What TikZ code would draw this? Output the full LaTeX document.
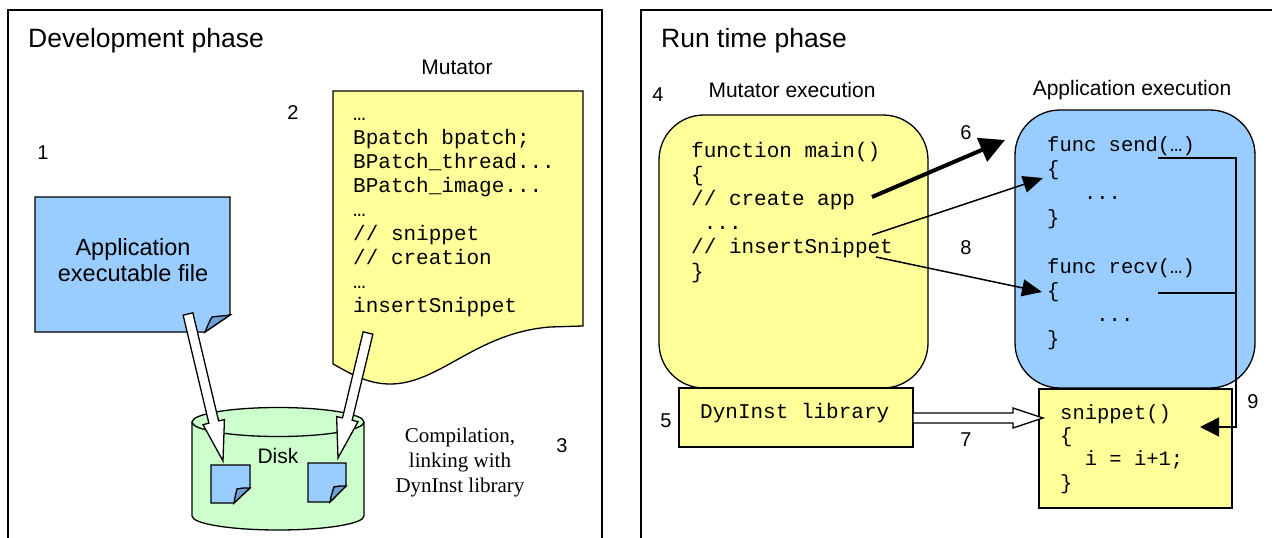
\documentclass[tikz,border=0pt]{standalone}
\usepackage{fontspec}
\setmainfont{Liberation Sans}
\setmonofont{Liberation Mono}
\newfontfamily\timesfont{Liberation Serif}
\usetikzlibrary{calc,arrows.meta}

\definecolor{docyellow}{HTML}{FFFF99}
\definecolor{docblue}{HTML}{99CCFF}
\definecolor{foldblue}{HTML}{6E9FD6}
\definecolor{diskgreen}{HTML}{CCFFCC}

% three typed dots in code lines
\newcommand\dotrun{...}

% Hollow block arrow from #1 to #2: shaft half width #3, head half width #4, head length #5
\newcommand\fatarrow[5]{%
  \coordinate (#1-#2-h) at ($(#2)!#5!(#1)$);
  \filldraw[hollow]
    ($(#1)!#3!90:(#2)$) -- ($(#1-#2-h)!#3!90:(#2)$) -- ($(#1-#2-h)!#4!90:(#2)$)
    -- (#2)
    -- ($(#1-#2-h)!#4!-90:(#2)$) -- ($(#1-#2-h)!#3!-90:(#2)$) -- ($(#1)!#3!-90:(#2)$) -- cycle;}

\begin{document}
\begin{tikzpicture}[x=1pt,y=-1pt,
  panel/.style={line width=2pt},
  outline/.style={draw, line width=1.3pt},
  hollow/.style={draw, fill=white, line width=1.3pt, line join=miter},
  title/.style={font=\fontsize{26.5}{30}\selectfont, anchor=base west, inner sep=0},
  caption/.style={font=\fontsize{21}{25}\selectfont, inner sep=0},
  num/.style={font=\fontsize{20}{23}\selectfont, inner sep=0},
  code/.style={font=\ttfamily\fontsize{21}{24}\selectfont, anchor=base west, inner sep=0},
  smallcode/.style={font=\ttfamily\fontsize{20.5}{24}\selectfont, anchor=base west, inner sep=0},
  link/.style={line width=1.5pt, -{Triangle[length=20pt,width=17pt]}},
  biglink/.style={line width=4pt, -{Triangle[length=25pt,width=25pt]}},
  railline/.style={line width=1.5pt},
  box/.style={outline, inner sep=0, anchor=center}]

\useasboundingbox (0,0) rectangle (1272,538);
\clip (0,0) rectangle (1272,538);

% ---------- panel frames ----------
\draw[panel] (8,545) -- (8,10) -- (602,10) -- (602,545);
\draw[panel] (641,545) -- (641,10) -- (1280,10);
\node[title] (devtitle) at (28,47) {Development phase};
\node[title] (runtitle) at (661,47) {Run time phase};

% ---------- development phase ----------
\node[num] (n1) at (43,153) {1};
\node[num] (n2) at (293,113) {2};
\node[num] (n3) at (562,446) {3};
\node[caption] (mutcap) at (457,67) {Mutator};

% application executable (page with curled corner)
\filldraw[outline, fill=docblue] (35,197) -- (230,197) -- (230,315) -- (205,332) -- (35,332) -- cycle;
\filldraw[outline, fill=foldblue] (205,332) .. controls (208,325) and (210,320) .. (212,317)
  .. controls (218,316) and (225,316) .. (230,315) -- cycle;
\node[font=\fontsize{23.5}{26}\selectfont, align=center, inner sep=0] (appfile) at (133,260) {Application\\executable file};

% mutator source (page with wavy bottom)
\filldraw[outline, fill=docyellow] (333,91) -- (583,91) -- (583,326) -- (550,327)
  .. controls (475,333) and (440,384) .. (390,384)
  .. controls (366,384) and (348,372) .. (333,364) -- cycle;
\foreach \t [count=\i] in {{…}, {Bpatch bpatch;}, {BPatch\_thread\dotrun}, {BPatch\_image\dotrun}, {…},
    {// snippet}, {// creation}, {…}, {insertSnippet}}
  \node[code] (src\i) at (353,{120+24.1*(\i-1)}) {\t};

% disk
\fill[diskgreen] (192,422) rectangle (364,516);
\fill[diskgreen] (278,516) ellipse [x radius=86, y radius=14];
\draw[outline] (192,422) -- (192,516) arc[start angle=180, end angle=0, x radius=86, y radius=14] -- (364,422);
\draw[outline, fill=diskgreen] (278,422) ellipse [x radius=86, y radius=14.5];
\node[caption] (disk) at (278,456) {Disk};

% object files on the disk
\filldraw[outline, fill=docblue] (211,465) -- (250,465) -- (250,488) -- (234,503) -- (211,503) -- cycle;
\filldraw[outline, fill=foldblue] (234,503) .. controls (235,497) .. (237,489) .. controls (242,488) .. (250,488) -- cycle;
\filldraw[outline, fill=docblue] (308,463) -- (346,463) -- (346,486) -- (330,502) -- (308,502) -- cycle;
\filldraw[outline, fill=foldblue] (330,502) .. controls (331,496) .. (334,487) .. controls (339,486) .. (346,486) -- cycle;

\node[font=\timesfont\fontsize{21}{25}\selectfont, align=center, inner sep=0] (compile) at (460,462)
  {Compilation,\\linking with\\DynInst library};

% compilation arrows
\coordinate (appout) at (188,314);
\coordinate (diskin1) at (223,461);
\coordinate (mutout) at (368,333);
\coordinate (diskin2) at (338,458);
\fatarrow{appout}{diskin1}{5pt}{11pt}{40pt}
\fatarrow{mutout}{diskin2}{5pt}{11pt}{40pt}

% ---------- run time phase ----------
\node[num] (n4) at (658,95) {4};
\node[caption] (mutexec) at (792,90) {Mutator execution};
\node[caption] (appexec) at (1132,90) {Application execution};

\node[box, fill=docyellow, rounded corners=45pt, minimum width=269pt, minimum height=273pt] (mutbox) at (793.5,251.5) {};
\node[box, fill=docblue, rounded corners=45pt, minimum width=240pt, minimum height=278pt] (appbox) at (1135,249) {};
\node[box, fill=docyellow, minimum width=234pt, minimum height=59pt] (dynbox) at (796,417.5) {};
\node[box, fill=docyellow, minimum width=193pt, minimum height=119pt] (snipbox) at (1135.5,448.5) {};

\foreach \t [count=\i] in {{function main()}, {\{}, {// create app}, {\phantom{x}\dotrun}, {// insertSnippet}, {\}}}
  \node[code] (main\i) at (691,{157+24.2*(\i-1)}) {\t};
\foreach \t [count=\i] in {{func send(…)}, {\{}, {\phantom{xxx}\dotrun}, {\}}}
  \node[smallcode] (send\i) at (1047,{151+24.4*(\i-1)}) {\t};
\foreach \t [count=\i] in {{func recv(…)}, {\{}, {\phantom{xxxx}\dotrun}, {\}}}
  \node[smallcode] (recv\i) at (1047,{273+24.2*(\i-1)}) {\t};
\foreach \t [count=\i] in {{snippet()}, {\{}, {\phantom{xx}i = i+1;}, {\}}}
  \node[smallcode] (snip\i) at (1060,{419+23.4*(\i-1)}) {\t};
\node[code] (dyntext) at (700,418) {DynInst library};

\node[num] (n5) at (666,421) {5};
\node[num] (n6) at (966,133) {6};
\node[num] (n7) at (966,440) {7};
\node[num] (n8) at (966,248) {8};
\node[num] (n9) at (1253,402) {9};

% mutator -> application
\coordinate (createout) at (872,197);
\coordinate (createin) at (1005,140);
\coordinate (insout1) at (872,235);
\coordinate (sendin) at (1043,178);
\coordinate (insout2) at (876,257);
\coordinate (recvin) at (1042,292);
\draw[biglink] (createout) -- (createin);
\draw[link] (insout1) -- (sendin);
\draw[link] (insout2) -- (recvin);

% library -> snippet
\coordinate (dynout) at (913,418);
\coordinate (snipin) at (1043,418);
\fatarrow{dynout}{snipin}{5pt}{10pt}{30pt}

% instrumentation points -> snippet
\coordinate (sendout) at (1158,158);
\coordinate (recvout) at (1158,293);
\coordinate (railtop) at (1236,158);
\coordinate (railbot) at (1236,427);
\coordinate (snipret) at (1200,427);
\draw[railline] (recvout) -- (recvout -| railtop);
\draw[railline, -{Triangle[length=19pt,width=19pt]}] (sendout) -- (railtop) -- (railbot) -- (snipret);
\end{tikzpicture}
\end{document}
